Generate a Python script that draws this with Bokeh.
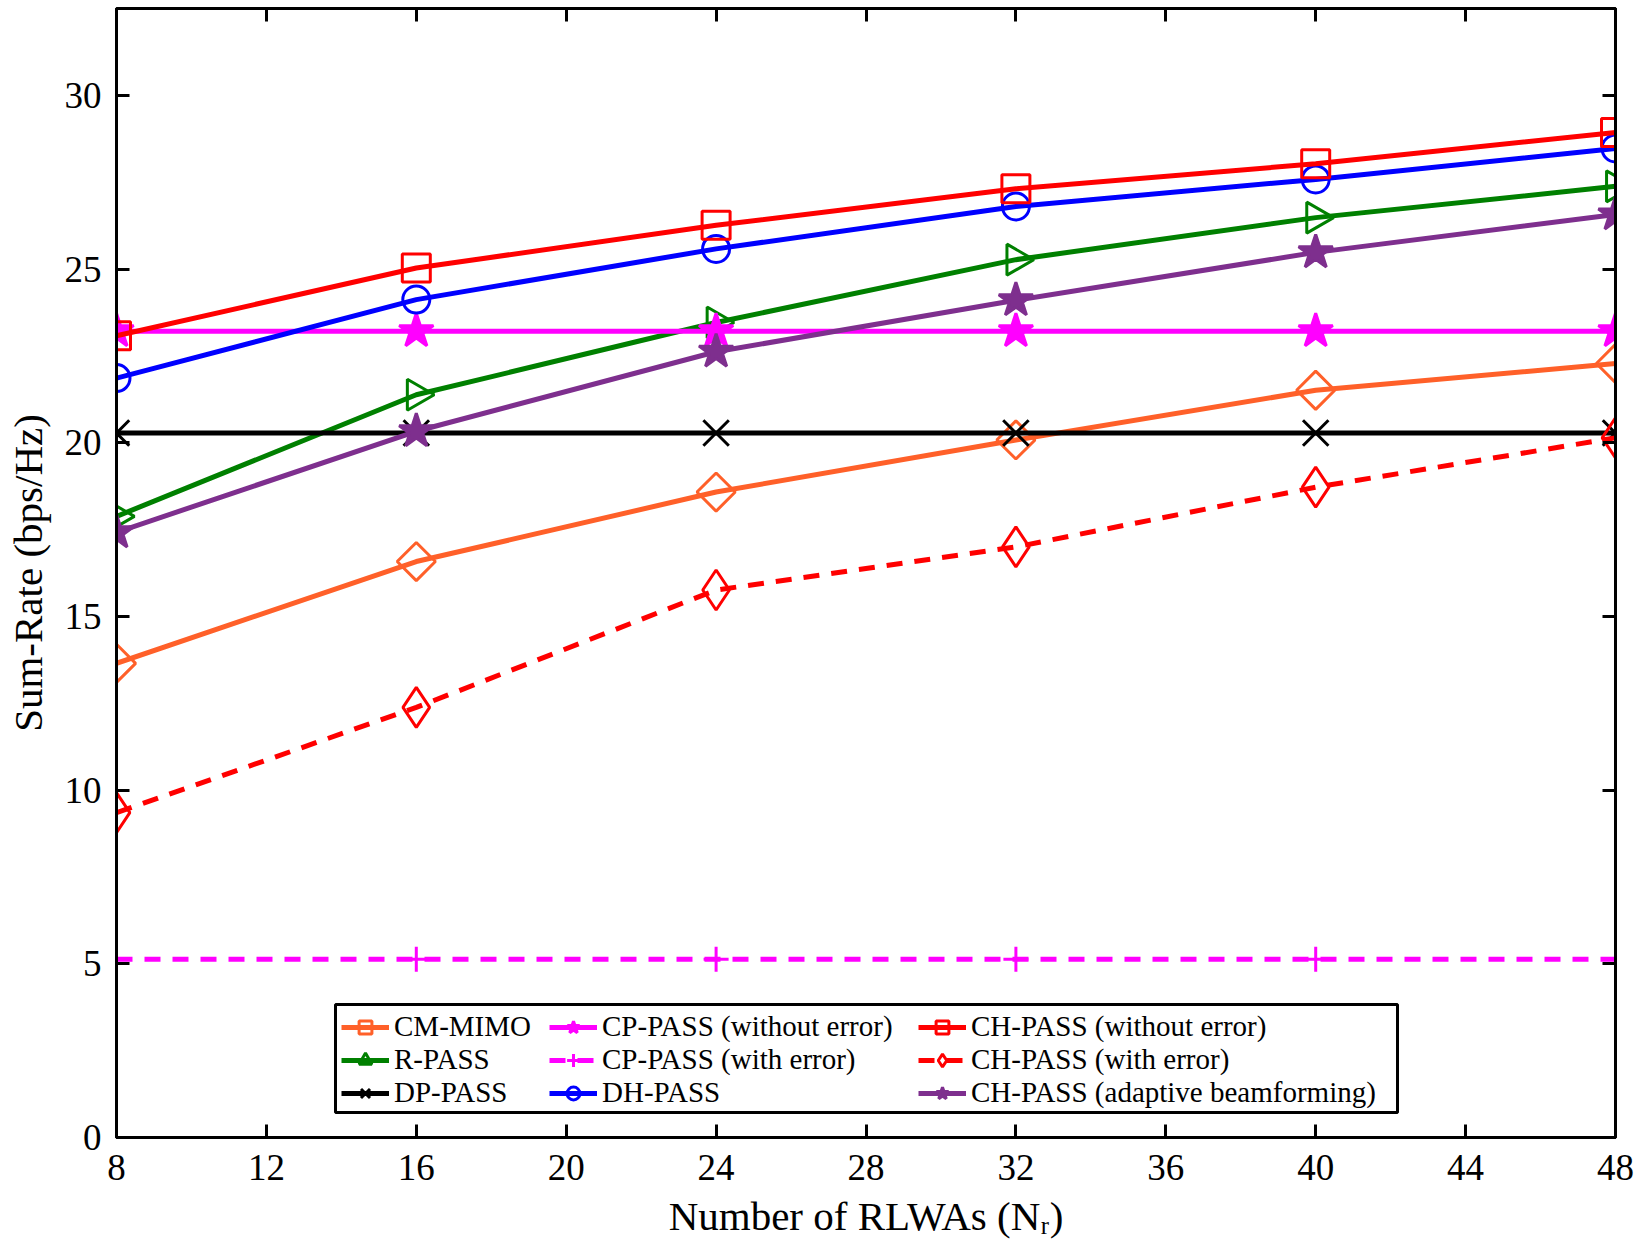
import math
from bokeh.plotting import figure
from bokeh.models import Range1d, FixedTicker, LinearAxis, Legend, LegendItem, BoxAnnotation
from bokeh.embed import file_html
from bokeh.resources import INLINE

# ---------------- data ----------------
nr = [8, 16, 24, 32, 40, 48]
cm_mimo = [13.65, 16.58, 18.58, 20.08, 21.51, 22.28]
r_pass = [17.88, 21.38, 23.46, 25.27, 26.48, 27.38]
dp_pass = [20.28, 20.28, 20.28, 20.28, 20.28, 20.28]
cp_pass_noerr = [23.21, 23.21, 23.21, 23.21, 23.21, 23.21]
cp_pass_err = [5.13, 5.13, 5.13, 5.13, 5.13, 5.13]
dh_pass = [21.86, 24.12, 25.58, 26.80, 27.58, 28.47]
ch_pass_noerr = [23.08, 25.03, 26.26, 27.31, 28.03, 28.93]
ch_pass_err = [9.35, 12.38, 15.76, 17.00, 18.72, 20.14]
ch_pass_adapt = [17.42, 20.33, 22.62, 24.10, 25.48, 26.57]

x_ticks = [8, 12, 16, 20, 24, 28, 32, 36, 40, 44, 48]
y_ticks = [0, 5, 10, 15, 20, 25, 30]

labels = ["CM-MIMO", "R-PASS", "DP-PASS",
          "CP-PASS (without error)", "CP-PASS (with error)", "DH-PASS",
          "CH-PASS (without error)", "CH-PASS (with error)", "CH-PASS (adaptive beamforming)"]
values = [cm_mimo, r_pass, dp_pass, cp_pass_noerr, cp_pass_err, dh_pass,
          ch_pass_noerr, ch_pass_err, ch_pass_adapt]

# styles: color, dash, marker, size, angle, filled
styles = [
    ("#FF6029", "solid", "square", 27, math.pi / 4, False),
    ("#008000", "solid", "triangle", 31, -math.pi / 2, False),
    ("#000000", "solid", "x", 36, 0.0, False),
    ("#FF00FF", "solid", "star", 36, 0.0, True),
    ("#FF00FF", "16 12", "cross", 25, 0.0, False),
    ("#0000FF", "solid", "circle", 27, 0.0, False),
    ("#FF0000", "solid", "square", 28, 0.0, False),
    ("#FF0000", "16 12", "diamond", 40, 0.0, False),
    ("#7E2F8E", "solid", "star", 36, 0.0, True),
]

FONT = "Liberation Serif"

p = figure(width=1642, height=1252,
           x_range=Range1d(8, 48), y_range=Range1d(0, 32.5),
           output_backend="svg", toolbar_location=None,
           min_border_left=116, min_border_right=27,
           min_border_top=8, min_border_bottom=115)

p.xgrid.visible = False
p.ygrid.visible = False
p.outline_line_color = "black"
p.outline_line_width = 3
p.outline_line_alpha = 1.0
p.background_fill_color = "white"
p.border_fill_color = "white"

for ax, ticks, standoff in ((p.xaxis[0], x_ticks, 17), (p.yaxis[0], y_ticks, 15)):
    ax.ticker = FixedTicker(ticks=ticks)
    ax.major_label_text_font = FONT
    ax.major_label_text_font_size = "37px"
    ax.major_label_text_color = "black"
    ax.major_tick_in = 13
    ax.major_tick_out = 0
    ax.major_tick_line_width = 3
    ax.major_tick_line_color = "black"
    ax.minor_tick_line_color = None
    ax.axis_line_width = 3
    ax.axis_line_color = "black"
    ax.major_label_standoff = standoff
    ax.axis_label_text_font = FONT
    ax.axis_label_text_font_size = "41px"
    ax.axis_label_text_font_style = "normal"
    ax.axis_label_text_color = "black"

p.xaxis[0].axis_label = "Number of RLWAs (N\u1d63)"
p.xaxis[0].axis_label_standoff = 10
p.yaxis[0].axis_label = "Sum-Rate (bps/Hz)"
p.yaxis[0].axis_label_standoff = 11

# ticks on top and right (no labels)
top_ax = LinearAxis(ticker=FixedTicker(ticks=x_ticks),
                    major_label_overrides={t: "" for t in x_ticks},
                    major_tick_in=13, major_tick_out=0, major_tick_line_width=3,
                    minor_tick_line_color=None, axis_line_color="black", axis_line_width=3,
                    major_label_standoff=0)
right_ax = LinearAxis(ticker=FixedTicker(ticks=y_ticks),
                      major_label_overrides={t: "" for t in y_ticks},
                      major_tick_in=13, major_tick_out=0, major_tick_line_width=3,
                      minor_tick_line_color=None, axis_line_color="black", axis_line_width=3,
                      major_label_standoff=0)
p.add_layout(top_ax, "above")
p.add_layout(right_ax, "right")

items = []
for lab, vals, (col, dash, mk, sz, ang, filled) in zip(labels, values, styles):
    lr = p.line(nr, vals, line_color=col, line_width=5, line_dash=dash)
    sr = p.scatter(nr, vals, marker=mk, size=sz, angle=ang,
                   line_color=col, line_width=3,
                   fill_color=col if filled else None)
    items.append(LegendItem(label=lab, renderers=[lr, sr]))

# legend frame
box = BoxAnnotation(left=219, right=1281, bottom=25, top=133,
                    left_units="screen", right_units="screen",
                    bottom_units="screen", top_units="screen",
                    fill_color="white", fill_alpha=1.0,
                    line_color="black", line_width=3, line_alpha=1.0)
p.add_layout(box)

# three legend columns
col_left = [225, 433, 802]
for c in range(3):
    lg = Legend(items=items[3 * c:3 * c + 3], location=(col_left[c], 28),
                orientation="vertical",
                label_text_font=FONT, label_text_font_size="29px",
                label_text_color="black",
                glyph_width=48, glyph_height=32, label_height=32,
                label_standoff=5, spacing=0, padding=4, margin=0,
                border_line_color=None, background_fill_alpha=0.0)
    p.add_layout(lg, "center")

open("out.html", "w").write(file_html(p, INLINE))
